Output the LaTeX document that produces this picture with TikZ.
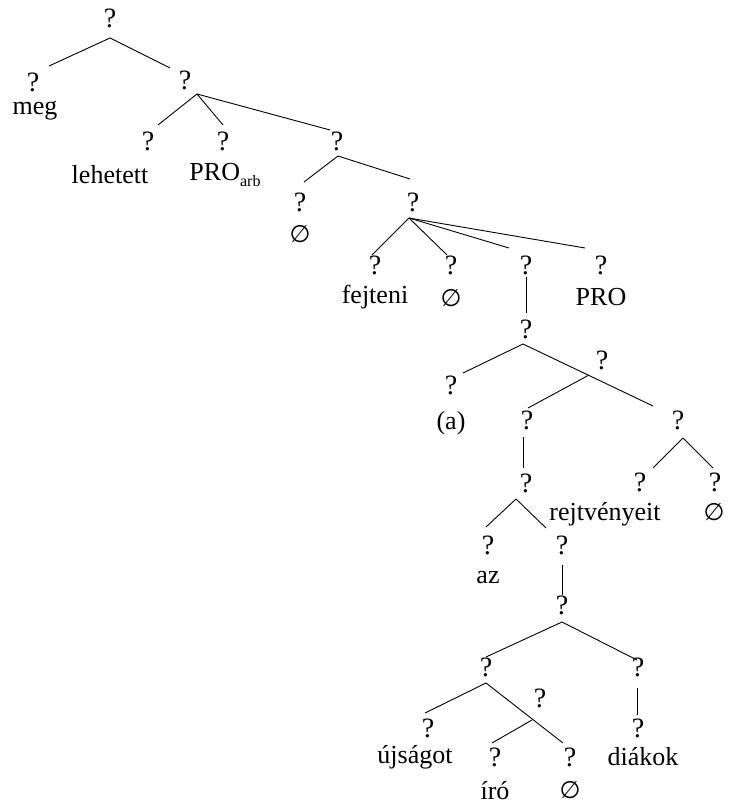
\documentclass[tikz,border=0pt]{standalone}
\usepackage{fontspec}
\setmainfont{Liberation Serif}
\newfontfamily\esfont{DejaVu Sans}
\newcommand{\es}{{\esfont\fontsize{24}{26}\selectfont ∅}}
\begin{document}
\begin{tikzpicture}[x=1pt,y=-1pt,
  lab/.style={inner sep=0pt,font=\fontsize{26}{30}\selectfont},
  qm/.style={inner sep=0pt,font=\fontsize{28}{30}\selectfont},
  br/.style={line width=0.9pt}]
\useasboundingbox (0,0) rectangle (729,805);
% question-mark nodes
\node[qm] (r) at (110,18) {?};
\node[qm] (n1) at (33,82) {?};
\node[qm] (n2) at (185,80) {?};
\node[qm] (n21) at (148,141) {?};
\node[qm] (n22) at (223,141) {?};
\node[qm] (n23) at (337,141) {?};
\node[qm] (n231) at (300,202) {?};
\node[qm] (n232) at (413,202) {?};
\node[qm] (a) at (375,265) {?};
\node[qm] (b) at (451,265) {?};
\node[qm] (c) at (526,265) {?};
\node[qm] (dd) at (601,265) {?};
\node[qm] (cc) at (526,329) {?};
\node[qm] (c1) at (451,385) {?};
\node[qm] (c2) at (602,360) {?};
\node[qm] (c21) at (527,420) {?};
\node[qm] (c22) at (678,420) {?};
\node[qm] (c3) at (526,483) {?};
\node[qm] (k1) at (640,482) {?};
\node[qm] (k2) at (715,482) {?};
\node[qm] (d1) at (488,545) {?};
\node[qm] (d2) at (562,545) {?};
\node[qm] (e0) at (562,605) {?};
\node[qm] (e1) at (486,667) {?};
\node[qm] (e2) at (638,667) {?};
\node[qm] (e2b) at (638,728) {?};
\node[qm] (f1) at (428,728) {?};
\node[qm] (f2) at (540,698) {?};
\node[qm] (g1) at (495,757) {?};
\node[qm] (g2) at (570,757) {?};
% words
\node[lab] (w1) at (35,111) {meg};
\node[lab] (w2) at (110,175) {lehetett};
\node[lab] (w3) at (225,175) {PRO\raisebox{-0.25em}{\fontsize{16}{16}\selectfont arb}};
\node[lab] (w4) at (300,234) {\es};
\node[lab] (w5) at (375,297) {fejteni};
\node[lab] (w6) at (451,298) {\es};
\node[lab] (w7) at (601,297) {PRO};
\node[lab] (w8) at (451,423) {(a)};
\node[lab] (w9) at (605,514) {rejtvényeit};
\node[lab] (w10) at (714,512) {\es};
\node[lab] (w11) at (488,578) {az};
\node[lab] (w12) at (415,757) {újságot};
\node[lab] (w13) at (495,791) {író};
\node[lab] (w14) at (570,790) {\es};
\node[lab] (w15) at (643,757) {diákok};
% branches
\draw[br] ([shift={(0,20)}]r.center) -- ([shift={(16,-16)}]n1.center);
\draw[br] ([shift={(0,20)}]r.center) -- ([shift={(-15,-12)}]n2.center);
\draw[br] ([shift={(12,14)}]n2.center) -- ([shift={(10,-16)}]n21.center);
\draw[br] ([shift={(12,14)}]n2.center) -- ([shift={(0,-16)}]n22.center);
\draw[br] ([shift={(12,14)}]n2.center) -- ([shift={(-7,-11)}]n23.center);
\draw[br] ([shift={(1,15)}]n23.center) -- ([shift={(4,-20)}]n231.center);
\draw[br] ([shift={(1,15)}]n23.center) -- ([shift={(-3,-23)}]n232.center);
\draw[br] ([shift={(-4,16)}]n232.center) -- ([shift={(-3,-10)}]a.center);
\draw[br] ([shift={(-4,16)}]n232.center) -- ([shift={(-4,-10)}]b.center);
\draw[br] ([shift={(-4,16)}]n232.center) -- ([shift={(-17,-17)}]c.center);
\draw[br] ([shift={(-4,16)}]n232.center) -- ([shift={(-16,-17)}]dd.center);
\draw[br] ([shift={(0,12)}]c.center) -- ([shift={(0,-16)}]cc.center);
\draw[br] ([shift={(-3,15)}]cc.center) -- ([shift={(12,-12)}]c1.center);
\draw[br] ([shift={(-3,15)}]cc.center) -- ([shift={(-25,-14)}]c22.center);
\draw[br] ([shift={(-13,15)}]c2.center) -- ([shift={(1,-12)}]c21.center);
\draw[br] ([shift={(-4,17)}]c21.center) -- ([shift={(-3,-15)}]c3.center);
\draw[br] ([shift={(5,18)}]c22.center) -- ([shift={(13,-14)}]k1.center);
\draw[br] ([shift={(5,18)}]c22.center) -- ([shift={(-2,-14)}]k2.center);
\draw[br] ([shift={(-10,16)}]c3.center) -- ([shift={(-2,-18)}]d1.center);
\draw[br] ([shift={(-10,16)}]c3.center) -- ([shift={(-16,-17)}]d2.center);
\draw[br] ([shift={(0,20)}]d2.center) -- ([shift={(0,-10)}]e0.center);
\draw[br] ([shift={(0,17)}]e0.center) -- ([shift={(0,-10)}]e1.center);
\draw[br] ([shift={(0,17)}]e0.center) -- ([shift={(-1,-7)}]e2.center);
\draw[br] ([shift={(-1,21)}]e2.center) -- ([shift={(-1,-13)}]e2b.center);
\draw[br] ([shift={(0,16)}]e1.center) -- ([shift={(-3,-15)}]f1.center);
\draw[br] ([shift={(0,16)}]e1.center) -- ([shift={(-7,-14)}]g2.center);
\draw[br] ([shift={(-8,22)}]f2.center) -- ([shift={(-3,-14)}]g1.center);
\end{tikzpicture}
\end{document}
